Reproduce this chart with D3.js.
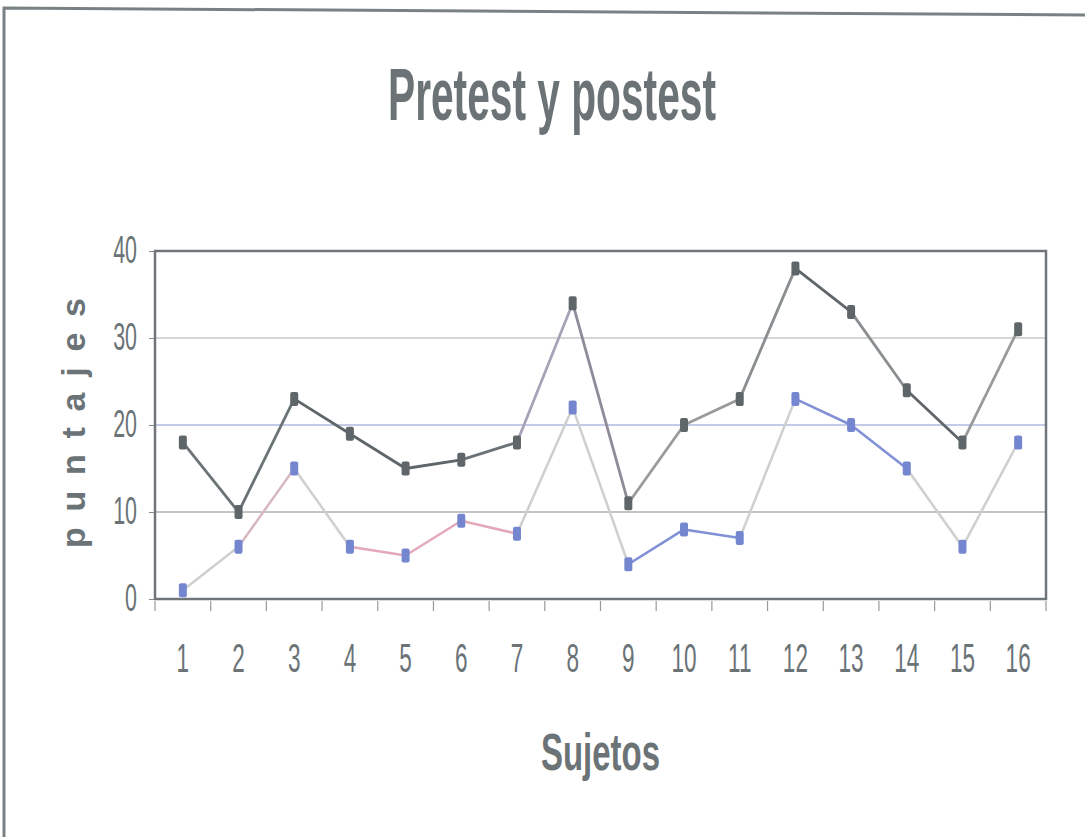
<!DOCTYPE html>
<html lang="es">
<head>
<meta charset="UTF-8">
<title>Pretest y postest</title>
<script src="https://cdn.jsdelivr.net/npm/d3@7"></script>
<style>
  body { margin: 0; background: #fff; }
  text { fill: #6b7377; font-family: "Liberation Sans", Arial, sans-serif; }
</style>
</head>
<body>
<svg id="chart" width="1085" height="837"></svg>
<script>
// data
const sujetos  = ["1","2","3","4","5","6","7","8","9","10","11","12","13","14","15","16"];
const postest  = [18, 10, 23, 19, 15, 16, 18, 34, 11, 20, 23, 38, 33, 24, 18, 31];
const pretest  = [1, 6, 15, 6, 5, 9, 7.5, 22, 4, 8, 7, 23, 20, 15, 6, 18];
const yTicks   = [0, 10, 20, 30, 40];

const svg = d3.select("#chart");
const m = {left: 155, top: 251, right: 1046, bottom: 599};
const narrow = 0.55;   // the scanned font is very condensed

const x = d3.scaleBand().domain(sujetos).range([m.left, m.right]);
const y = d3.scaleLinear().domain([0, 40]).range([m.bottom, m.top]);
const cx = d => x(d) + x.bandwidth() / 2;

// outer scanned frame
svg.append("path")
  .attr("d", "M4,837 L4,8 L1085,15")
  .attr("fill", "none").attr("stroke", "#7a8184").attr("stroke-width", 3);

// title
svg.append("text").attr("x", 388).attr("y", 120)
  .attr("font-size", 74).attr("font-weight", "bold")
  .attr("textLength", 328).attr("lengthAdjust", "spacingAndGlyphs")
  .text("Pretest y postest");

// gridlines
const gridCol = {10: "#c4c4c4", 20: "#8a97d0", 30: "#a9aeb0"};
svg.append("g").selectAll("line").data([10, 20, 30]).join("line")
  .attr("x1", m.left).attr("x2", m.right)
  .attr("y1", d => y(d)).attr("y2", d => y(d))
  .attr("stroke", d => gridCol[d]).attr("stroke-width", d => d === 10 ? 2 : 1.2);

// axes
const yAxis = svg.append("g").attr("transform", `translate(${m.left},0)`)
  .call(d3.axisLeft(y).tickValues(yTicks).tickSize(6));
yAxis.select(".domain").remove();
yAxis.selectAll("line").attr("stroke", "#888");
yAxis.selectAll("text")
  .attr("x", -18 / narrow).attr("dy", "0.3em")
  .attr("transform", `scale(${narrow},1)`)
  .attr("font-size", 39).attr("fill", "#6b7377");

const xAxis = svg.append("g").attr("transform", `translate(0,${m.bottom})`)
  .call(d3.axisBottom(x).tickSize(0));
xAxis.select(".domain").remove();
xAxis.selectAll("text")
  .attr("y", 73).attr("dy", 0).attr("x", 0)
  .attr("transform", `scale(${narrow},1)`)
  .attr("font-size", 41).attr("fill", "#6b7377");

// tick marks on boundaries
const bounds = sujetos.map(d => x(d)).concat([m.right]);
svg.append("g").selectAll("line").data(bounds).join("line")
  .attr("x1", d => d).attr("x2", d => d)
  .attr("y1", m.bottom + 2).attr("y2", m.bottom + 12)
  .attr("stroke", "#999").attr("stroke-width", 1.2);

// plot frame
svg.append("rect")
  .attr("x", m.left).attr("y", m.top)
  .attr("width", m.right - m.left).attr("height", m.bottom - m.top)
  .attr("fill", "none").attr("stroke", "#6f7679").attr("stroke-width", 2.5);

// pretest line: segment colours follow the scan
const preSeg = ["#cfcfcf","#d8b8c0","#cfcfcf","#e3a9b8","#e3a9b8","#e3a9b8","#cfcfcf","#cfcfcf","#7f90d6","#7f90d6","#cfcfcf","#7f90d6","#7f90d6","#cfcfcf","#cfcfcf"];
svg.append("g").selectAll("line").data(d3.range(sujetos.length - 1)).join("line")
  .attr("x1", i => cx(sujetos[i])).attr("y1", i => y(pretest[i]))
  .attr("x2", i => cx(sujetos[i + 1])).attr("y2", i => y(pretest[i + 1]))
  .attr("stroke", i => preSeg[i]).attr("stroke-width", 2.5);

// postest line
const postSeg = ["#6b7377","#6b7377","#5f6669","#5f6669","#5f6669","#6b7377","#a9a3b8","#8f8b9a","#9a9a9a","#9a9a9a","#8a8e90","#5f6669","#8a8e90","#5f6669","#9a9a9a"];
svg.append("g").selectAll("line").data(d3.range(sujetos.length - 1)).join("line")
  .attr("x1", i => cx(sujetos[i])).attr("y1", i => y(postest[i]))
  .attr("x2", i => cx(sujetos[i + 1])).attr("y2", i => y(postest[i + 1]))
  .attr("stroke", i => postSeg[i]).attr("stroke-width", 2.8);

// markers
const mk = (data, col) => svg.append("g").selectAll("rect").data(data).join("rect")
  .attr("x", (d, i) => cx(sujetos[i]) - 4).attr("y", d => y(d) - 7)
  .attr("width", 8).attr("height", 14).attr("rx", 2)
  .attr("fill", col);
mk(pretest, "#7486d0");
mk(postest, "#5f6669");

// axis titles
svg.append("text").attr("transform", "translate(85,548) rotate(-90)")
  .attr("font-size", 34).attr("font-weight", "bold")
  .attr("textLength", 250).attr("lengthAdjust", "spacing")
  .text("puntajes");
svg.append("text").attr("x", 541).attr("y", 770)
  .attr("font-size", 52).attr("font-weight", "bold")
  .attr("textLength", 119).attr("lengthAdjust", "spacingAndGlyphs")
  .text("Sujetos");
</script>
</body>
</html>
